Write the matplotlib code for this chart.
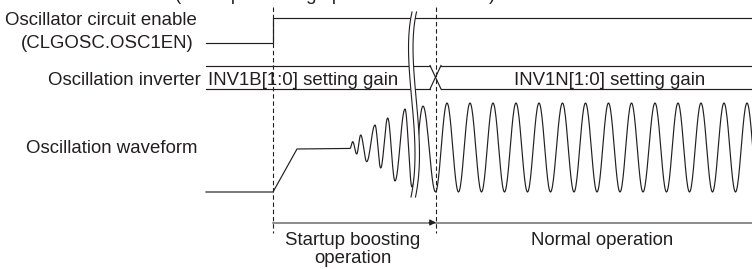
import numpy as np
import matplotlib.pyplot as plt
from matplotlib.patches import Polygon

plt.rcParams['font.family'] = ['Liberation Sans', 'DejaVu Sans']

INK = '#231f20'
GREY = '#6d6e71'
FS = 13.4

# time marks along the diagram (pixels)
t_left = 206
t_enable = 273
t_switch = 436
t_right = 752

# enable signal (CLGOSC.OSC1EN)
enable_t = [t_left, t_enable, t_enable, t_right]
enable_y = [43, 43, 18, 18]

# inverter gain bus
bus_hi, bus_lo = 65.5, 89
bus_cross = [430, 441]

# waveform: off level, ramp and flat level before oscillation starts
lead_t = [t_left, t_enable, 297, 350]
lead_y = [192, 192, 149, 148.5]

# extremes of the growing oscillation (startup boosting)
grow_t = [350, 352.7, 356.7, 360.7, 366.7, 375, 380.7, 387.7, 395, 405, 412, 423, 435.5]
grow_y = [148.5, 141.7, 154, 135, 161.7, 125, 168, 118, 181, 109, 187, 106, 192]

# extremes of normal operation
peak_t = [447, 470, 493, 516, 539, 562.5, 585.5, 608.5, 631.5, 655, 678, 701, 724, 747]
trough_t = [458.5, 481.5, 504.5, 527.5, 550.5, 574, 597, 620, 643, 666.5, 689.5, 712.5, 735.5, 758.5]
peak_y, trough_y = 103, 192

# break mark (bezier control points), offset of second stroke
break_ctrl = [(412, 12), (400, 65), (424, 135), (411, 197)]
break_gap = 4.5


def half_cycles(ts, ys, n=20):
    xs, vs = [ts[0]], [ys[0]]
    for (t0, y0), (t1, y1) in zip(zip(ts[:-1], ys[:-1]), zip(ts[1:], ys[1:])):
        s = np.linspace(0, 1, n)[1:]
        xs.extend(t0 + (t1 - t0) * s)
        vs.extend(y0 + (y1 - y0) * (1 - np.cos(np.pi * s)) / 2)
    return np.array(xs), np.array(vs)


def bezier(pts, n=80):
    p = np.array(pts, float)
    t = np.linspace(0, 1, n)[:, None]
    return ((1 - t) ** 3 * p[0] + 3 * (1 - t) ** 2 * t * p[1]
            + 3 * (1 - t) * t ** 2 * p[2] + t ** 3 * p[3])


fig = plt.figure(figsize=(7.52, 2.69), dpi=100)
ax = fig.add_axes([0, 0, 1, 1])
ax.set_xlim(0, 752)
ax.set_ylim(269, 0)
ax.axis('off')

lw = 0.85

# enable signal
ax.plot(enable_t, enable_y, color=INK, lw=lw)

# inverter bus with crossing
ax.plot([t_left, bus_cross[0]], [bus_hi, bus_hi], color=INK, lw=lw)
ax.plot([t_left, bus_cross[0]], [bus_lo, bus_lo], color=INK, lw=lw)
ax.plot([bus_cross[0], bus_cross[1]], [bus_hi, bus_lo], color=INK, lw=lw)
ax.plot([bus_cross[0], bus_cross[1]], [bus_lo, bus_hi], color=INK, lw=lw)
ax.plot([bus_cross[1], t_right], [bus_hi, bus_hi], color=INK, lw=lw)
ax.plot([bus_cross[1], t_right], [bus_lo, bus_lo], color=INK, lw=lw)

# oscillation waveform
norm_t = [grow_t[-1]]
norm_y = [grow_y[-1]]
for p, q in zip(peak_t, trough_t):
    norm_t += [p, q]
    norm_y += [peak_y, trough_y]
gx, gy = half_cycles(grow_t, grow_y, 16)
nx, ny = half_cycles(norm_t, norm_y, 24)
wx = np.concatenate([lead_t[:-1], gx, nx[1:]])
wy = np.concatenate([lead_y[:-1], gy, ny[1:]])
ax.plot(wx, wy, color=INK, lw=lw)

# break mark
c1 = bezier(break_ctrl)
c2 = c1 + np.array([break_gap, 0])
ax.add_patch(Polygon(np.vstack([c1, c2[::-1]]), closed=True, facecolor='white',
                     edgecolor='none', zorder=3))
ax.plot(c1[:, 0], c1[:, 1], color=INK, lw=0.8, zorder=4)
ax.plot(c2[:, 0], c2[:, 1], color=INK, lw=0.8, zorder=4)

# dashed timing lines
for t in [t_enable, t_switch]:
    ax.plot([t, t], [7, 233], color=INK, lw=0.8, dashes=(4, 2.5), zorder=5)

# phase line with arrow
ax.plot([t_enable, t_right], [222.5, 222.5], color=GREY, lw=1.1)
ax.annotate('', xy=(t_switch, 222.5), xytext=(t_switch - 7, 222.5),
            arrowprops=dict(arrowstyle='-|>', color=INK, lw=0.8,
                            mutation_scale=9, shrinkA=0, shrinkB=0))

# texts
kw = dict(color=INK, fontsize=FS, va='baseline')
ax.text(175, -0.5, '(Startup boosting operation is enabled)', ha='left', **kw)
ax.text(197, 25, 'Oscillator circuit enable', ha='right', **kw)
ax.text(194, 48.5, '(CLGOSC.OSC1EN)', ha='right', **kw)
ax.text(201, 85, 'Oscillation inverter', ha='right', **kw)
ax.text(197, 153.3, 'Oscillation waveform', ha='right', **kw)
ax.text(207.5, 85, 'INV1B[1:0] setting gain', ha='left', **kw)
ax.text(610, 85, 'INV1N[1:0] setting gain', ha='center', **kw)
ax.text(352.5, 245, 'Startup boosting', ha='center', **kw)
ax.text(352.5, 263.3, 'operation', ha='center', **kw)
ax.text(602.5, 245, 'Normal operation', ha='center', **kw)

fig.savefig('out.png', dpi=100)
